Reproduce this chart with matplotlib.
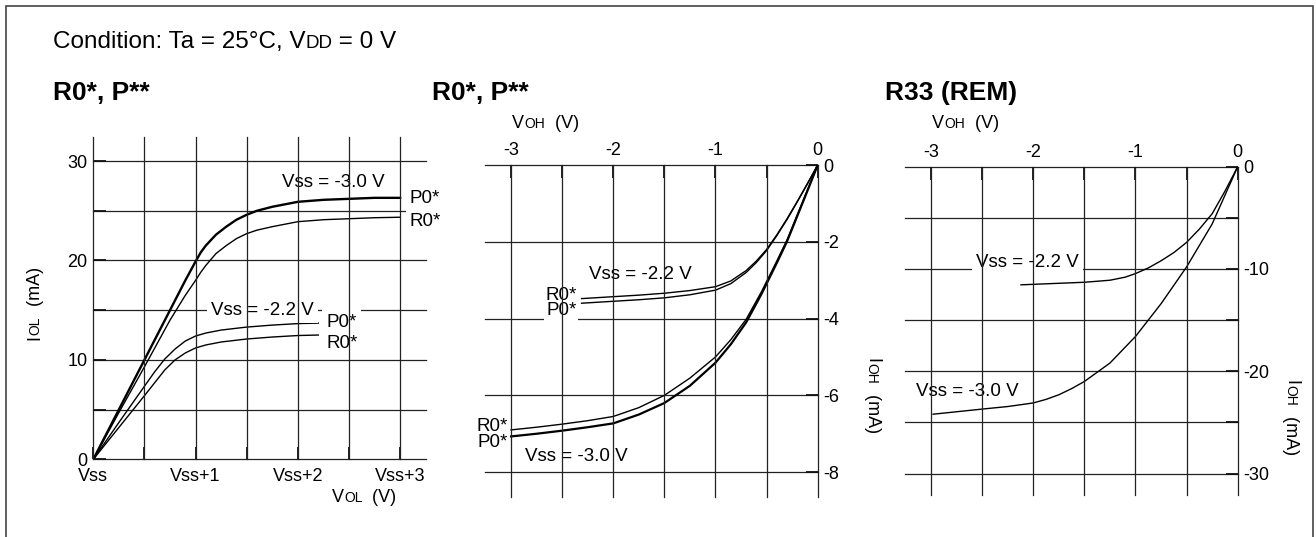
import matplotlib
matplotlib.use('Agg')
import matplotlib.pyplot as plt
from matplotlib.patches import Rectangle

plt.rcParams['font.family'] = ['Liberation Sans', 'DejaVu Sans']

# --- data ---
# R0*, P** : IOL vs VOL (V above Vss)
vol_30 = [0, 0.25, 0.5, 0.75, 0.9, 1.0, 1.05, 1.1, 1.2, 1.3, 1.4, 1.5, 1.6, 1.75, 2.0, 2.25, 2.5, 2.75, 3.0]
iol_p0_30 = [0, 5.0, 10.0, 15.0, 18.0, 19.9, 20.8, 21.5, 22.6, 23.4, 24.1, 24.6, 25.0, 25.4, 25.9, 26.1, 26.2, 26.3, 26.3]
iol_r0_30 = [0, 4.7, 9.3, 14.0, 16.5, 18.0, 18.8, 19.5, 20.7, 21.5, 22.2, 22.7, 23.05, 23.4, 23.9, 24.1, 24.2, 24.3, 24.35]
vol_22 = [0, 0.25, 0.5, 0.6, 0.7, 0.8, 0.9, 1.0, 1.1, 1.25, 1.5, 1.75, 2.0, 2.2]
iol_p0_22 = [0, 3.7, 7.35, 8.8, 10.1, 11.1, 11.9, 12.4, 12.7, 13.0, 13.3, 13.5, 13.65, 13.7]
iol_r0_22 = [0, 3.2, 6.4, 7.7, 9.0, 10.0, 10.7, 11.2, 11.5, 11.8, 12.1, 12.3, 12.45, 12.5]
vol_ticks = [0, 0.5, 1, 1.5, 2, 2.5, 3]
vol_ticklabels = ['Vss', '', 'Vss+1', '', 'Vss+2', '', 'Vss+3']
iol_ticks = [0, 5, 10, 15, 20, 25, 30]
iol_ticklabels = ['0', '', '10', '', '20', '', '30']

# R0*, P** : IOH vs VOH
voh_22 = [-2.31, -2.0, -1.75, -1.5, -1.25, -1.0, -0.85, -0.7, -0.6, -0.5, -0.4, -0.3, -0.2, -0.1, 0]
ioh_r0_22 = [-3.48, -3.43, -3.39, -3.34, -3.27, -3.17, -3.02, -2.75, -2.5, -2.2, -1.82, -1.4, -0.95, -0.48, 0]
ioh_p0_22 = [-3.6, -3.55, -3.51, -3.46, -3.38, -3.26, -3.09, -2.8, -2.54, -2.23, -1.84, -1.42, -0.96, -0.49, 0]
voh_30 = [-3.0, -2.75, -2.5, -2.25, -2.0, -1.75, -1.5, -1.25, -1.0, -0.85, -0.7, -0.55, -0.4, -0.3, -0.2, -0.1, 0]
ioh_r0_30 = [-6.9, -6.83, -6.75, -6.66, -6.55, -6.32, -6.0, -5.55, -5.0, -4.55, -4.02, -3.3, -2.5, -1.95, -1.3, -0.65, 0]
ioh_p0_30 = [-7.07, -7.0, -6.92, -6.83, -6.73, -6.5, -6.2, -5.75, -5.15, -4.67, -4.1, -3.36, -2.55, -1.99, -1.33, -0.67, 0]
voh_ticks = [-3, -2.5, -2, -1.5, -1, -0.5, 0]
voh_ticklabels = ['-3', '', '-2', '', '-1', '', '0']
ioh_ticks = [0, -2, -4, -6, -8]
ioh_ticklabels = ['0', '-2', '-4', '-6', '-8']

# R33 (REM)
rem_v_22 = [-2.12, -1.75, -1.5, -1.25, -1.1, -1.0, -0.875, -0.75, -0.625, -0.5, -0.375, -0.25, -0.125, 0]
rem_i_22 = [-11.55, -11.4, -11.3, -11.1, -10.8, -10.45, -9.9, -9.2, -8.4, -7.4, -6.1, -4.6, -2.4, 0]
rem_v_30 = [-2.98, -2.5, -2.25, -2.0, -1.875, -1.75, -1.625, -1.5, -1.375, -1.25, -1.0, -0.75, -0.5, -0.25, 0]
rem_i_30 = [-24.2, -23.7, -23.45, -23.1, -22.75, -22.3, -21.7, -21.0, -20.1, -19.2, -16.6, -13.4, -9.8, -5.6, 0]
rem_ioh_ticks = [0, -5, -10, -15, -20, -25, -30]
rem_ioh_ticklabels = ['0', '', '-10', '', '-20', '', '-30']

W, H = 1316, 537
fig = plt.figure(figsize=(W / 100, H / 100), dpi=100)
renderer = fig.canvas.get_renderer()

# background axes in pixel coords for free text
bg = fig.add_axes([0, 0, 1, 1])
bg.set_xlim(0, W)
bg.set_ylim(H, 0)
bg.axis('off')

fig.add_artist(Rectangle((6 / W, -0.05), (1313 - 6) / W, 1 - 6 / H + 0.05,
                         transform=fig.transFigure, fill=False, lw=1.2, ec='#444444'))


def ax_at(x0, y0, x1, y1):
    return fig.add_axes([x0 / W, 1 - y1 / H, (x1 - x0) / W, (y1 - y0) / H])


def chain(x, y, parts, rotation=0, **kw):
    # big letter + small-caps letters on one baseline
    for s, size in parts:
        t = bg.text(x, y, s, fontsize=size, rotation=rotation, rotation_mode='anchor',
                    ha='left', va='baseline', **kw)
        bb = t.get_window_extent(renderer)
        if rotation == 0:
            x += bb.width
        elif rotation == 90:
            y -= bb.height
        else:
            y += bb.height


def grid(ax, xs, ys):
    for yv in ys:
        ax.axhline(yv, color='#222222', lw=0.9, zorder=0.5, clip_on=False)
    for xv in xs:
        ax.axvline(xv, color='#222222', lw=0.9, zorder=4, clip_on=False)
    for sp in ax.spines.values():
        sp.set_visible(False)
    ax.tick_params(direction='in', length=9, width=1.3, color='#111111', labelsize=13)


box = dict(facecolor='white', edgecolor='none', pad=3)
box_s = dict(facecolor='white', edgecolor='none', pad=1.2)
LBL = 13.5

# ---------- panel 1 ----------
ax1 = ax_at(93.3, 136.7, 425.7, 459.3)
ax1.set_xlim(0, 3.25)
ax1.set_ylim(0, 32.45)
grid(ax1, vol_ticks, iol_ticks)
ax1.set_xticks(vol_ticks)
ax1.set_xticklabels(vol_ticklabels)
ax1.set_yticks(iol_ticks)
ax1.set_yticklabels(iol_ticklabels)
ax1.tick_params(axis='x', pad=6)
ax1.tick_params(axis='y', pad=4)
ax1.plot(vol_30, iol_p0_30, color='black', lw=1.7, zorder=2)
ax1.plot(vol_30, iol_r0_30, color='black', lw=1.0, zorder=2)
ax1.plot(vol_22, iol_p0_22, color='black', lw=1.0, zorder=2)
ax1.plot(vol_22, iol_r0_22, color='black', lw=1.0, zorder=2)
ax1.text(2.35, 27.8, 'Vss = -3.0 V', fontsize=LBL, ha='center', va='center', zorder=3)
ax1.text(3.095, 26.2, 'P0*', fontsize=LBL, ha='left', va='center', bbox=box, zorder=3, clip_on=False)
ax1.text(3.095, 23.97, 'R0*', fontsize=LBL, ha='left', va='center', bbox=box, zorder=3, clip_on=False)
ax1.text(1.65, 15.0, 'Vss = -2.2 V', fontsize=LBL, ha='center', va='center', bbox=box, zorder=3)
ax1.text(2.28, 13.8, 'P0*', fontsize=LBL, ha='left', va='center', bbox=box, zorder=3)
ax1.text(2.28, 11.6, 'R0*', fontsize=LBL, ha='left', va='center', bbox=box, zorder=3)

# ---------- panel 2 ----------
ax2 = ax_at(485, 165, 817.7, 496.7)
ax2.set_xlim(-3.255, 0)
ax2.set_ylim(-8.64, 0)
grid(ax2, voh_ticks, ioh_ticks)
ax2.xaxis.tick_top()
ax2.yaxis.tick_right()
ax2.set_xticks(voh_ticks)
ax2.set_xticklabels(voh_ticklabels)
ax2.set_yticks(ioh_ticks)
ax2.set_yticklabels(ioh_ticklabels)
ax2.tick_params(axis='x', pad=4)
ax2.tick_params(axis='y', pad=4)
ax2.plot(voh_22, ioh_r0_22, color='black', lw=1.0, zorder=2)
ax2.plot(voh_22, ioh_p0_22, color='black', lw=1.0, zorder=2)
ax2.plot(voh_30, ioh_r0_30, color='black', lw=1.0, zorder=2)
ax2.plot(voh_30, ioh_p0_30, color='black', lw=1.6, zorder=2)
ax2.text(-1.73, -2.86, 'Vss = -2.2 V', fontsize=LBL, ha='center', va='center', zorder=3)
ax2.text(-2.36, -3.8, 'P0*', fontsize=LBL, ha='right', va='center', bbox=box_s, zorder=3)
ax2.text(-2.36, -3.4, 'R0*', fontsize=LBL, ha='right', va='center', zorder=3.5)
ax2.text(-3.03, -6.8, 'R0*', fontsize=LBL, ha='right', va='center', zorder=3, clip_on=False)
ax2.text(-3.03, -7.24, 'P0*', fontsize=LBL, ha='right', va='center', zorder=3, clip_on=False)
ax2.text(-2.36, -7.6, 'Vss = -3.0 V', fontsize=LBL, ha='center', va='center', zorder=3)

# ---------- panel 3 ----------
ax3 = ax_at(905, 166.7, 1237.7, 495)
ax3.set_xlim(-3.255, 0)
ax3.set_ylim(-32.1, 0)
grid(ax3, voh_ticks, rem_ioh_ticks)
ax3.xaxis.tick_top()
ax3.yaxis.tick_right()
ax3.set_xticks(voh_ticks)
ax3.set_xticklabels(voh_ticklabels)
ax3.set_yticks(rem_ioh_ticks)
ax3.set_yticklabels(rem_ioh_ticklabels)
ax3.tick_params(axis='x', pad=4)
ax3.tick_params(axis='y', pad=4)
ax3.plot(rem_v_22, rem_i_22, color='black', lw=1.0, zorder=2)
ax3.plot(rem_v_30, rem_i_30, color='black', lw=1.0, zorder=2)
ax3.text(-2.06, -9.4, 'Vss = -2.2 V', fontsize=LBL, ha='center', va='center', bbox=box, zorder=3)
ax3.text(-2.65, -21.95, 'Vss = -3.0 V', fontsize=LBL, ha='center', va='center', bbox=box, zorder=3)

# ---------- titles and axis labels ----------
chain(53, 48, [('Condition: Ta = 25°C, V', 17.5), ('DD', 13.5), (' = 0 V', 17.5)])
bg.text(53, 100, 'R0*, P**', fontsize=19, fontweight='bold', va='baseline')
bg.text(432, 100, 'R0*, P**', fontsize=19, fontweight='bold', va='baseline')
bg.text(885, 100, 'R33 (REM)', fontsize=19, fontweight='bold', va='baseline')

chain(332, 502, [('V', 13), ('OL', 10), ('  (V)', 13)])
chain(512, 128, [('V', 13), ('OH', 10), ('  (V)', 13)])
chain(932, 128, [('V', 13), ('OH', 10), ('  (V)', 13)])
chain(39.5, 340, [('I', 13), ('OL', 10), ('  (mA)', 13)], rotation=90)
chain(867.5, 358, [('I', 13), ('OH', 10), ('  (mA)', 13)], rotation=-90)
chain(1286.5, 380, [('I', 13), ('OH', 10), ('  (mA)', 13)], rotation=-90)

fig.savefig('out.png', dpi=100)
